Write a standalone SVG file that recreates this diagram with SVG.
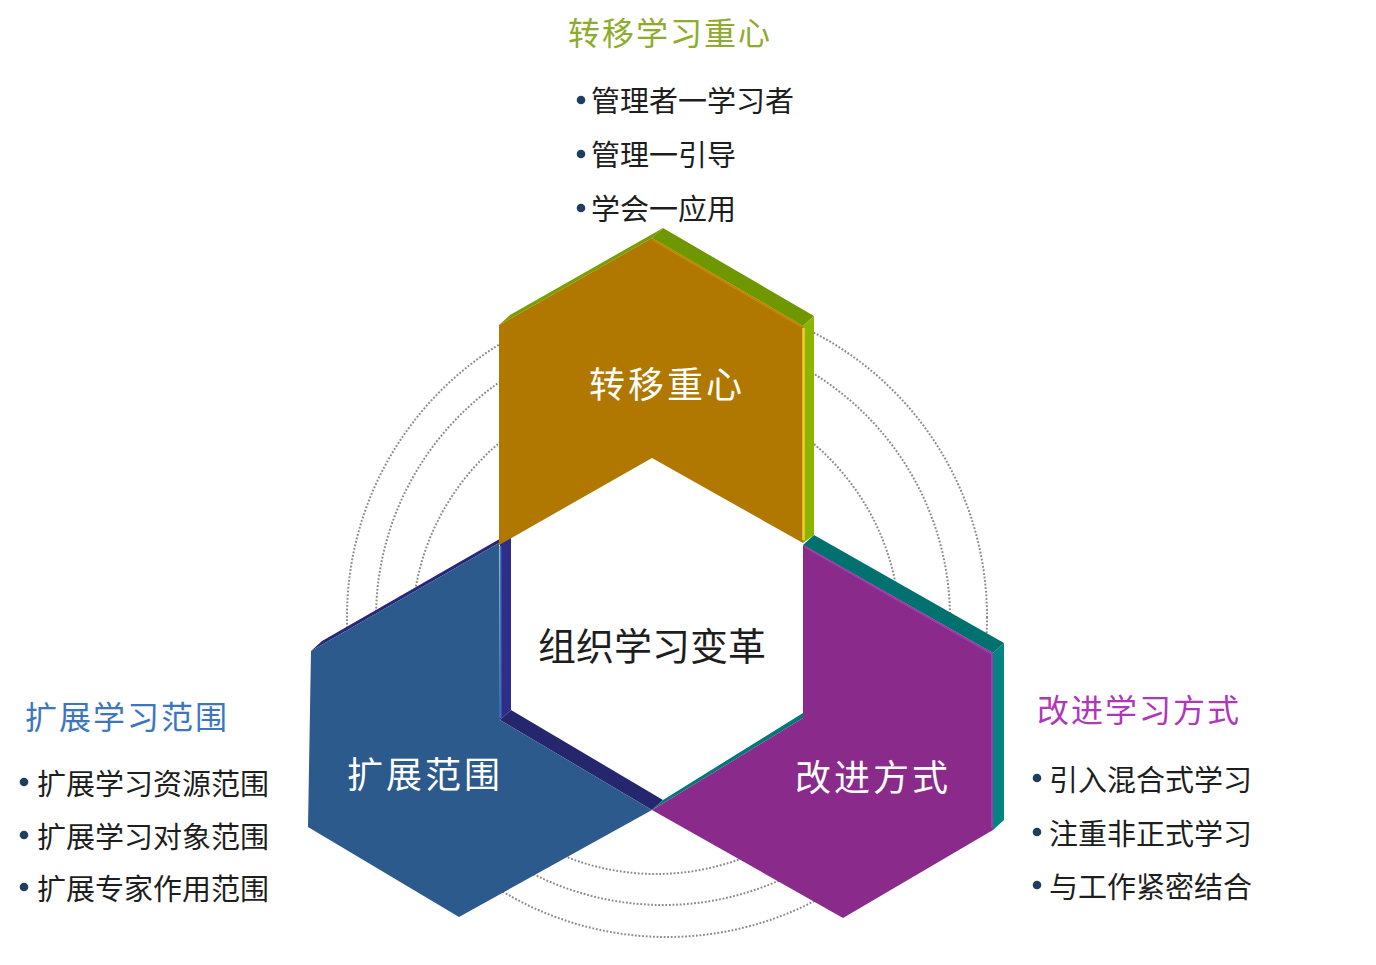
<svg xmlns="http://www.w3.org/2000/svg" width="1376" height="965" viewBox="0 0 1376 965">
<style>
.ring{fill:none;stroke:#8a8a8a;stroke-width:2;stroke-dasharray:1.8 1.8}
.cjk{font-family:"Noto Sans CJK SC","Noto Sans",sans-serif}
.title{font-size:32px;letter-spacing:2px}
.item{font-size:29px;fill:#1e1e1e}
.label{font-size:36px;fill:#ffffff;letter-spacing:3px;text-anchor:middle}
.dot{fill:#1f3d5e}
</style>
<rect width="1376" height="965" fill="#ffffff"/>
<g id="rings">
<circle class="ring" cx="667" cy="617" r="320"/>
<circle class="ring" cx="663" cy="618" r="287"/>
<circle class="ring" cx="656" cy="630" r="244"/>
</g>
<g id="node-expand">
<polygon points="311,651 499,543 510,533 322,641" fill="#27287a"/>
<polygon points="500,543 511,533 511,710 500,720" fill="#2e2e88"/>
<polygon points="500,720 511,710 663,800 652,810" fill="#25266e"/>
<polygon points="499,543 311,651 308,827 459,917 652,810 500,720" fill="#2c5a8c"/>
<line x1="500.5" y1="546" x2="500.5" y2="718" stroke="#3a72b2" stroke-width="2"/>
<text class="cjk label" x="425" y="788">扩展范围</text>
</g>
<g id="node-improve">
<polygon points="803,545 814,535 1004,643 993,653" fill="#00716f"/>
<polygon points="993,653 1004,643 1004,820 993,830" fill="#008583"/>
<polygon points="652,810 663,800 803,713 803,718" fill="#007a78"/>
<polygon points="803,545 993,653 993,830 843,918 652,810 803,718" fill="#8a2a8a"/>
<polyline points="805,547 992,654 992,828" fill="none" stroke="#a23aa8" stroke-width="2"/>
<text class="cjk label" x="873" y="791">改进方式</text>
</g>
<g id="node-shift">
<polygon points="499,325 510,315 663,228 652,238" fill="#789f00"/>
<polygon points="652,238 663,228 814,316 803,326" fill="#6f9700"/>
<polygon points="803,326 814,316 814,535 803,543" fill="#8ab600"/>
<polygon points="652,238 803,326 803,543 652,458 499,545 499,325" fill="#b07800"/>
<line x1="653" y1="240" x2="802" y2="327" stroke="#c48800" stroke-width="2"/>
<line x1="803.5" y1="328" x2="803.5" y2="540" stroke="#f2cc36" stroke-width="2.5"/>
<text class="cjk label" x="667" y="398">转移重心</text>
</g>
<g id="node-center">
<text class="cjk" x="652" y="660" font-size="38" fill="#1e1e1e" text-anchor="middle">组织学习变革</text>
</g>
<g id="list-shift">
<text class="cjk title" x="568" y="45" fill="#8eab2c">转移学习重心</text>
<circle class="dot" cx="581" cy="100" r="4.3"/>
<circle class="dot" cx="581" cy="154" r="4.3"/>
<circle class="dot" cx="581" cy="208" r="4.3"/>
<text class="cjk item" x="591" y="112">管理者一学习者</text>
<text class="cjk item" x="591" y="166">管理一引导</text>
<text class="cjk item" x="591" y="220">学会一应用</text>
</g>
<g id="list-expand">
<text class="cjk title" x="25" y="729" fill="#3d76bf">扩展学习范围</text>
<circle class="dot" cx="24" cy="782" r="4.3"/>
<circle class="dot" cx="24" cy="835" r="4.3"/>
<circle class="dot" cx="24" cy="887" r="4.3"/>
<text class="cjk item" x="37" y="795">扩展学习资源范围</text>
<text class="cjk item" x="37" y="848">扩展学习对象范围</text>
<text class="cjk item" x="37" y="900">扩展专家作用范围</text>
</g>
<g id="list-improve">
<text class="cjk title" x="1037" y="722" fill="#b037b8">改进学习方式</text>
<circle class="dot" cx="1037" cy="778" r="4.3"/>
<circle class="dot" cx="1037" cy="832" r="4.3"/>
<circle class="dot" cx="1037" cy="885" r="4.3"/>
<text class="cjk item" x="1049" y="791">引入混合式学习</text>
<text class="cjk item" x="1049" y="845">注重非正式学习</text>
<text class="cjk item" x="1049" y="898">与工作紧密结合</text>
</g>
<g id="connectors"></g>
</svg>
